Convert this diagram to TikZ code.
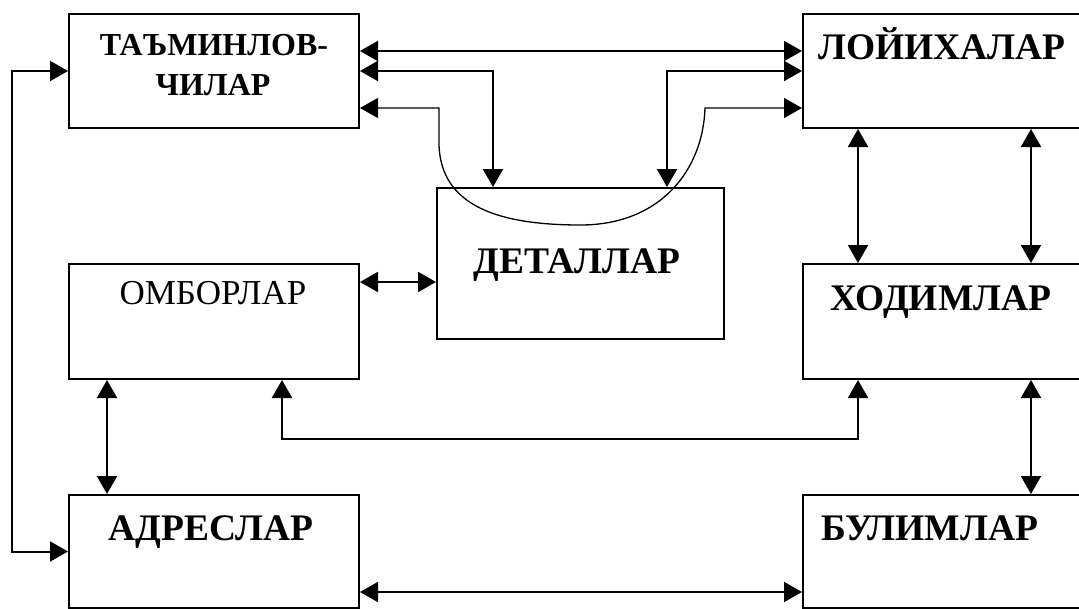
\documentclass[tikz,border=0pt]{standalone}
\usepackage{fontspec}
\setmainfont{Liberation Serif}
\usetikzlibrary{arrows.meta}
\begin{document}
\begin{tikzpicture}[x=1pt,y=-1pt,
  box/.style={draw,line width=2pt,rectangle,inner sep=0pt,anchor=north west},
  lbl/.style={inner sep=0pt,anchor=base,font=\bfseries\fontsize{37.5}{40}\selectfont},
  tip/.tip={Triangle[length=18pt,width=20pt]},
  link/.style={line width=2pt,tip-tip}]
\clip (0,0) rectangle (1079,608);
\fill[white] (0,0) rectangle (1079,608);
% boxes
\node[box,minimum width=290pt,minimum height=114pt] (T) at (68,13) {};
\node[box,minimum width=300pt,minimum height=114pt] (L) at (802,13) {};
\node[box,minimum width=290pt,minimum height=115pt] (O) at (68,263) {};
\node[box,minimum width=287pt,minimum height=151pt] (D) at (436,187) {};
\node[box,minimum width=300pt,minimum height=115pt] (X) at (802,263) {};
\node[box,minimum width=290pt,minimum height=113pt] (A) at (68,494) {};
\node[box,minimum width=300pt,minimum height=113pt] (B) at (802,494) {};
% labels
\node[lbl,font=\bfseries\fontsize{32}{40}\selectfont] (tT1) at (214,55) {ТАЪМИНЛОВ-};
\node[lbl,font=\bfseries\fontsize{32}{40}\selectfont] (tT2) at (213,95) {ЧИЛАР};
\node[lbl] (tL) at (942,59) {ЛОЙИХАЛАР};
\node[lbl,font=\fontsize{35}{40}\selectfont] (tO) at (213,304) {ОМБОРЛАР};
\node[lbl] (tD) at (577,273) {ДЕТАЛЛАР};
\node[lbl] (tX) at (941,310) {ХОДИМЛАР};
\node[lbl] (tA) at (211,540) {АДРЕСЛАР};
\node[lbl] (tB) at (930,540) {БУЛИМЛАР};
% connectors
\draw[link] ([yshift=-38pt]T.north east) -- ([yshift=-38pt]L.north west);
\draw[link] (T.east) -| ([xshift=57pt]D.north west);
\draw[link] (L.west) -| ([xshift=-58pt]D.north east);
\draw[link,line width=1.3pt] ([yshift=-95pt]T.north east) -- ++(79,0) -- ++(0,37)
   .. controls ++(2,62) and ++(-80,0) .. ([yshift=-38pt]D.north)
   .. controls ++(80,0) and ++(-2,62) .. ([yshift=-95pt,xshift=-20pt]D.north east |- L.north west)
   -- ([yshift=-95pt]L.north west);
\draw[link] ([xshift=56pt]L.south west) -- ([xshift=56pt]X.north west);
\draw[link] ([xshift=229pt]L.south west) -- ([xshift=229pt]X.north west);
\coordinate (o1) at ([yshift=-19pt]O.north east);
\draw[link] (o1) -- (o1 -| D.west);
\draw[link] ([xshift=56pt]X.south west) -- ++(0,59) -| ([xshift=214pt]O.south west);
\draw[link] ([xshift=229pt]X.south west) -- ([xshift=229pt]B.north west);
\draw[link] ([xshift=39pt]O.south west) -- ([xshift=39pt]A.north west);
\draw[link] (T.west) -- ++(-56,0) |- (A.west);
\draw[link] ([yshift=-98pt]A.north east) -- ([yshift=-98pt]B.north west);
\end{tikzpicture}
\end{document}
